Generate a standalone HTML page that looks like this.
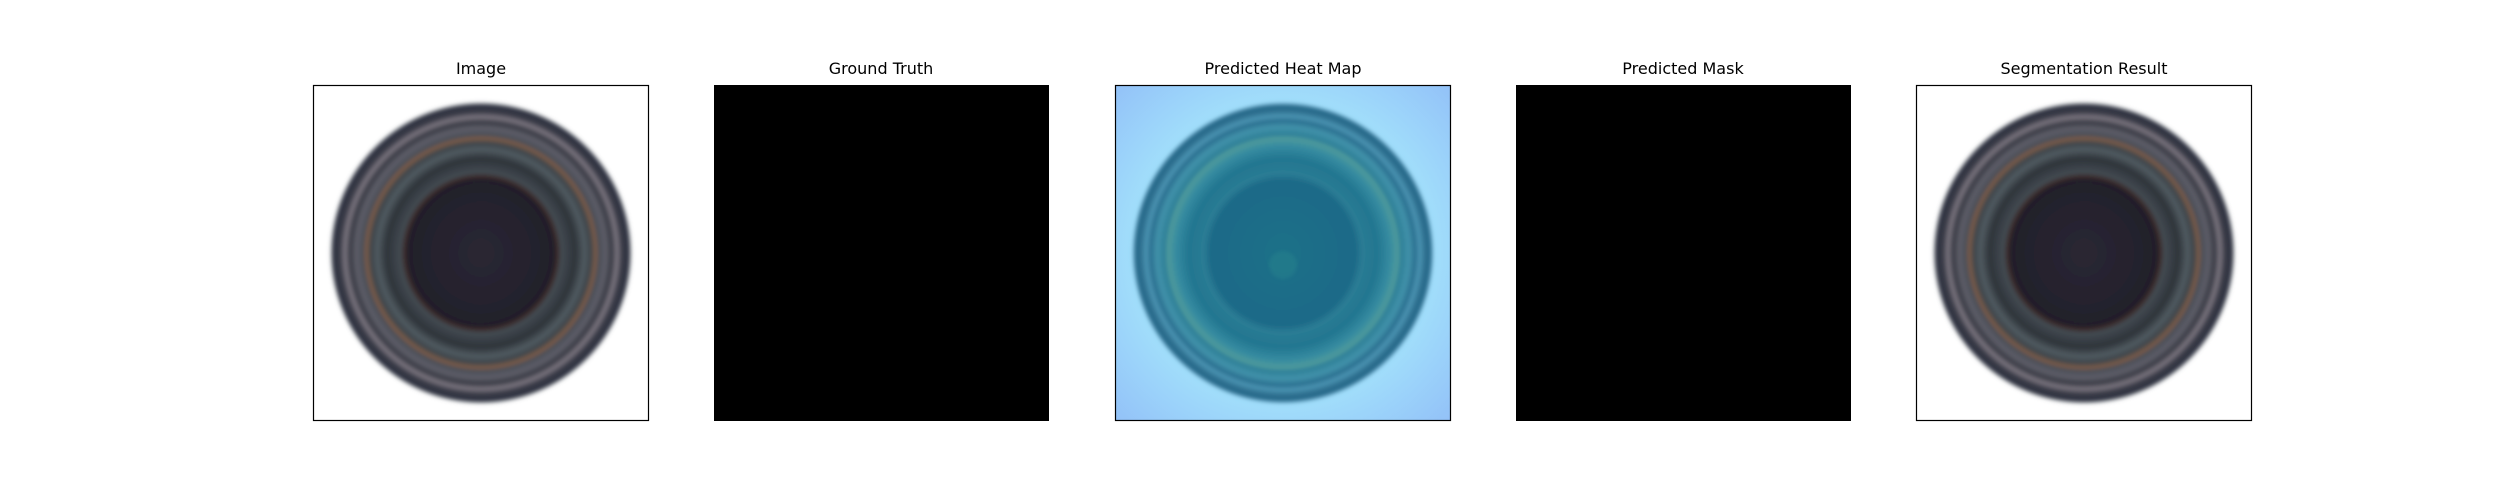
<!DOCTYPE html>
<html><head><meta charset="utf-8"><style>
html,body{margin:0;padding:0;background:#fff;width:2500px;height:500px;overflow:hidden}
.t{position:absolute;font-family:"DejaVu Sans","Liberation Sans",sans-serif;font-size:16px;color:#000;text-align:center;width:400px;top:59px}
svg{position:absolute;top:0;left:0}
</style></head><body>
<svg width="2500" height="500">
<defs>
<radialGradient id="photo" cx="0.5" cy="0.5" r="0.5">
<stop offset="0" stop-color="#2a2733"/>
<stop offset="0.48" stop-color="#221f2b"/>
<stop offset="0.50" stop-color="#3a2a28"/>
<stop offset="0.53" stop-color="#434a52"/>
<stop offset="0.62" stop-color="#2e343a"/>
<stop offset="0.68" stop-color="#505a60"/>
<stop offset="0.72" stop-color="#3e464c"/>
<stop offset="0.755" stop-color="#7a5a48"/>
<stop offset="0.78" stop-color="#4a4e58"/>
<stop offset="0.82" stop-color="#5e5e68"/>
<stop offset="0.86" stop-color="#3a3c46"/>
<stop offset="0.895" stop-color="#7a747e"/>
<stop offset="0.93" stop-color="#383a46"/>
<stop offset="0.97" stop-color="#2e3240"/>
<stop offset="1" stop-color="#6a7078" stop-opacity="0"/>
</radialGradient>
<radialGradient id="heat" cx="0.5" cy="0.5" r="0.5">
<stop offset="0" stop-color="#1f7088"/>
<stop offset="0.48" stop-color="#1e6a88"/>
<stop offset="0.52" stop-color="#2a7c94"/>
<stop offset="0.62" stop-color="#237690"/>
<stop offset="0.70" stop-color="#348aa0"/>
<stop offset="0.755" stop-color="#4e9a9c"/>
<stop offset="0.78" stop-color="#2e8098"/>
<stop offset="0.83" stop-color="#4292aa"/>
<stop offset="0.87" stop-color="#2a7090"/>
<stop offset="0.90" stop-color="#4c94b2"/>
<stop offset="0.94" stop-color="#2a6c8c"/>
<stop offset="0.97" stop-color="#2a6c8c"/>
<stop offset="1" stop-color="#6aa8cc" stop-opacity="0"/>
</radialGradient>
<radialGradient id="heatbg" cx="0.5" cy="0.5" r="0.72">
<stop offset="0.6" stop-color="#a2e0fb"/>
<stop offset="1" stop-color="#92c0f8"/>
</radialGradient>
<filter id="bl"><feGaussianBlur stdDeviation="1.8"/></filter>
</defs>
<g>
<rect x="313" y="85" width="335" height="335" fill="#fff"/>
<circle cx="481" cy="253" r="152" fill="url(#photo)" filter="url(#bl)"/>
<rect x="313.5" y="85.5" width="335" height="335" fill="none" stroke="#000" stroke-width="1.2"/>
</g>
<g>
<rect x="714" y="85" width="335" height="336" fill="#000"/>
</g>
<g>
<rect x="1115" y="85" width="335" height="335" fill="url(#heatbg)"/>
<circle cx="1283" cy="253" r="152" fill="url(#heat)" filter="url(#bl)"/>
<circle cx="1283" cy="265" r="14" fill="#2e9090" opacity="0.3" filter="url(#bl)"/>
<rect x="1115.5" y="85.5" width="335" height="335" fill="none" stroke="#000" stroke-width="1.2"/>
</g>
<g>
<rect x="1516" y="85" width="335" height="336" fill="#000"/>
</g>
<g>
<rect x="1916" y="85" width="335" height="335" fill="#fff"/>
<circle cx="2084" cy="253" r="152" fill="url(#photo)" filter="url(#bl)"/>
<rect x="1916.5" y="85.5" width="335" height="335" fill="none" stroke="#000" stroke-width="1.2"/>
</g>
</svg>
<div class="t" style="left:281px">Image</div>
<div class="t" style="left:681px">Ground Truth</div>
<div class="t" style="left:1083px">Predicted Heat Map</div>
<div class="t" style="left:1483px">Predicted Mask</div>
<div class="t" style="left:1884px">Segmentation Result</div>
</body></html>
